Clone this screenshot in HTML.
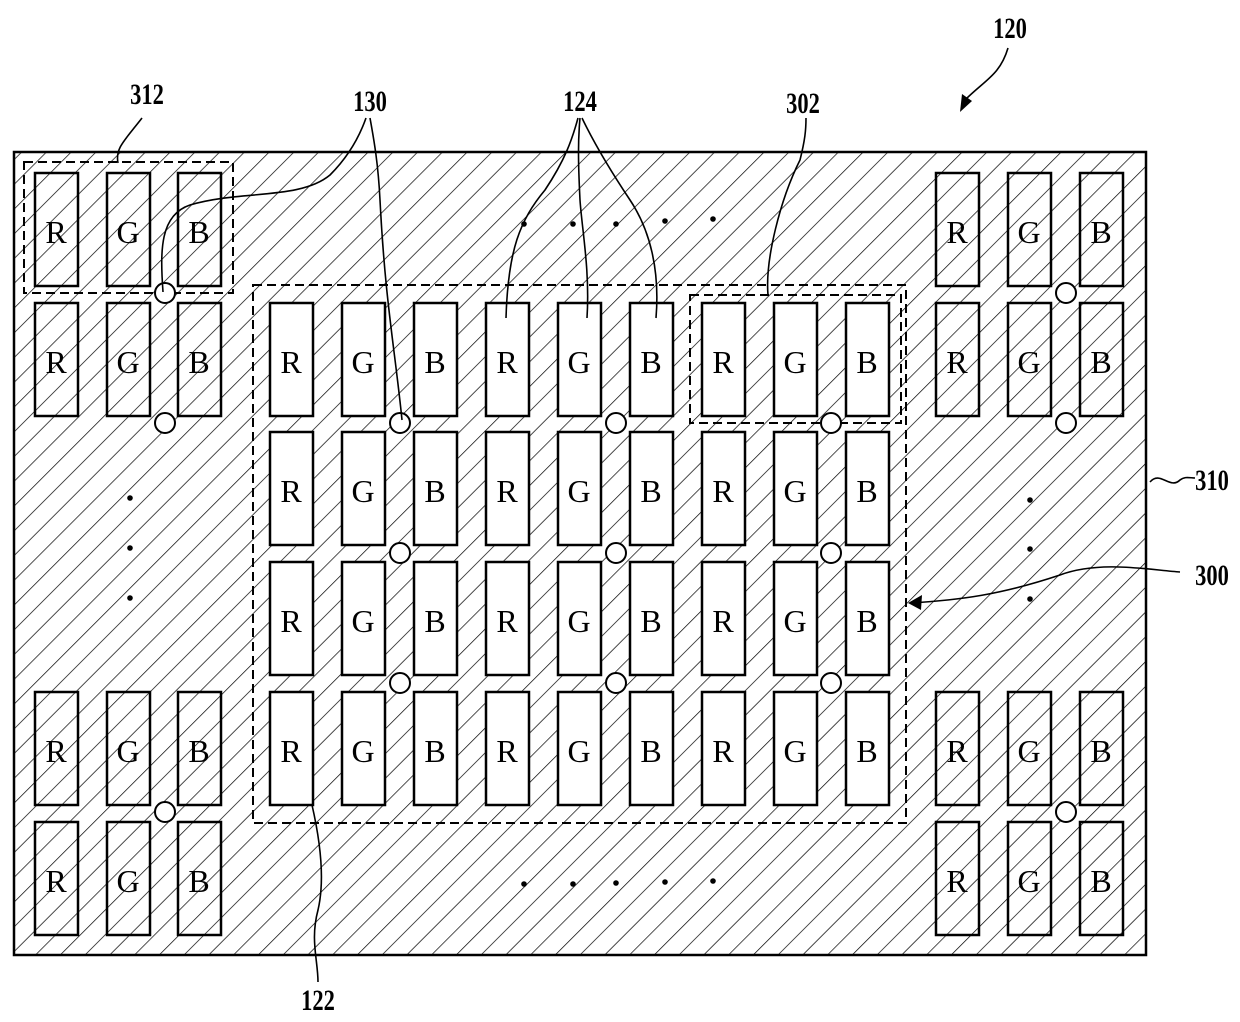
<!DOCTYPE html>
<html><head><meta charset="utf-8"><style>
html,body{margin:0;padding:0;background:#fff}
svg{display:block}
.c rect{stroke:#000;stroke-width:2.5}
.w rect{fill:#fff}
.n rect{fill:none}
text.l{font-family:"Liberation Serif",serif;font-size:32px;text-anchor:middle}
text.lb{font-family:"Liberation Serif",serif;font-size:30px;text-anchor:middle;font-weight:bold}
</style></head><body>
<svg width="1240" height="1022" viewBox="0 0 1240 1022" xmlns="http://www.w3.org/2000/svg">
<defs>
<pattern id="h" patternUnits="userSpaceOnUse" width="17.5" height="40" patternTransform="rotate(45)">
<line x1="0" y1="0" x2="0" y2="40" stroke="#000" stroke-width="1.4"/>
</pattern>
</defs>
<rect x="14" y="152" width="1132" height="803" fill="#fff"/>
<rect x="14" y="152" width="1132" height="803" fill="url(#h)" stroke="#000" stroke-width="2.5"/>

<g fill="none" stroke="#000" stroke-width="2" stroke-dasharray="9,5">
<rect x="24" y="162" width="209" height="131"/>
<rect x="253" y="285" width="653" height="538"/>
<rect x="690" y="295" width="211" height="128"/>
</g>

<!-- corner cells (hatched) -->
<g class="c n">
<g transform="translate(35,173)"><rect width="43" height="113"/><text class="l" x="21" y="70" transform="scale(1,1)">R</text></g>
<g transform="translate(107,173)"><rect width="43" height="113"/><text class="l" x="21" y="70">G</text></g>
<g transform="translate(178,173)"><rect width="43" height="113"/><text class="l" x="21" y="70">B</text></g>
<g transform="translate(35,303)"><rect width="43" height="113"/><text class="l" x="21" y="70">R</text></g>
<g transform="translate(107,303)"><rect width="43" height="113"/><text class="l" x="21" y="70">G</text></g>
<g transform="translate(178,303)"><rect width="43" height="113"/><text class="l" x="21" y="70">B</text></g>
<g transform="translate(35,692)"><rect width="43" height="113"/><text class="l" x="21" y="70">R</text></g>
<g transform="translate(107,692)"><rect width="43" height="113"/><text class="l" x="21" y="70">G</text></g>
<g transform="translate(178,692)"><rect width="43" height="113"/><text class="l" x="21" y="70">B</text></g>
<g transform="translate(35,822)"><rect width="43" height="113"/><text class="l" x="21" y="70">R</text></g>
<g transform="translate(107,822)"><rect width="43" height="113"/><text class="l" x="21" y="70">G</text></g>
<g transform="translate(178,822)"><rect width="43" height="113"/><text class="l" x="21" y="70">B</text></g>
<g transform="translate(936,173)"><rect width="43" height="113"/><text class="l" x="21" y="70">R</text></g>
<g transform="translate(1008,173)"><rect width="43" height="113"/><text class="l" x="21" y="70">G</text></g>
<g transform="translate(1080,173)"><rect width="43" height="113"/><text class="l" x="21" y="70">B</text></g>
<g transform="translate(936,303)"><rect width="43" height="113"/><text class="l" x="21" y="70">R</text></g>
<g transform="translate(1008,303)"><rect width="43" height="113"/><text class="l" x="21" y="70">G</text></g>
<g transform="translate(1080,303)"><rect width="43" height="113"/><text class="l" x="21" y="70">B</text></g>
<g transform="translate(936,692)"><rect width="43" height="113"/><text class="l" x="21" y="70">R</text></g>
<g transform="translate(1008,692)"><rect width="43" height="113"/><text class="l" x="21" y="70">G</text></g>
<g transform="translate(1080,692)"><rect width="43" height="113"/><text class="l" x="21" y="70">B</text></g>
<g transform="translate(936,822)"><rect width="43" height="113"/><text class="l" x="21" y="70">R</text></g>
<g transform="translate(1008,822)"><rect width="43" height="113"/><text class="l" x="21" y="70">G</text></g>
<g transform="translate(1080,822)"><rect width="43" height="113"/><text class="l" x="21" y="70">B</text></g>
</g>

<!-- inner cells (white) -->
<g class="c w">
<g transform="translate(0,303)">
<g transform="translate(270,0)"><rect width="43" height="113"/><text class="l" x="21" y="70">R</text></g>
<g transform="translate(342,0)"><rect width="43" height="113"/><text class="l" x="21" y="70">G</text></g>
<g transform="translate(414,0)"><rect width="43" height="113"/><text class="l" x="21" y="70">B</text></g>
<g transform="translate(486,0)"><rect width="43" height="113"/><text class="l" x="21" y="70">R</text></g>
<g transform="translate(558,0)"><rect width="43" height="113"/><text class="l" x="21" y="70">G</text></g>
<g transform="translate(630,0)"><rect width="43" height="113"/><text class="l" x="21" y="70">B</text></g>
<g transform="translate(702,0)"><rect width="43" height="113"/><text class="l" x="21" y="70">R</text></g>
<g transform="translate(774,0)"><rect width="43" height="113"/><text class="l" x="21" y="70">G</text></g>
<g transform="translate(846,0)"><rect width="43" height="113"/><text class="l" x="21" y="70">B</text></g>
</g>
<g transform="translate(0,432)">
<g transform="translate(270,0)"><rect width="43" height="113"/><text class="l" x="21" y="70">R</text></g>
<g transform="translate(342,0)"><rect width="43" height="113"/><text class="l" x="21" y="70">G</text></g>
<g transform="translate(414,0)"><rect width="43" height="113"/><text class="l" x="21" y="70">B</text></g>
<g transform="translate(486,0)"><rect width="43" height="113"/><text class="l" x="21" y="70">R</text></g>
<g transform="translate(558,0)"><rect width="43" height="113"/><text class="l" x="21" y="70">G</text></g>
<g transform="translate(630,0)"><rect width="43" height="113"/><text class="l" x="21" y="70">B</text></g>
<g transform="translate(702,0)"><rect width="43" height="113"/><text class="l" x="21" y="70">R</text></g>
<g transform="translate(774,0)"><rect width="43" height="113"/><text class="l" x="21" y="70">G</text></g>
<g transform="translate(846,0)"><rect width="43" height="113"/><text class="l" x="21" y="70">B</text></g>
</g>
<g transform="translate(0,562)">
<g transform="translate(270,0)"><rect width="43" height="113"/><text class="l" x="21" y="70">R</text></g>
<g transform="translate(342,0)"><rect width="43" height="113"/><text class="l" x="21" y="70">G</text></g>
<g transform="translate(414,0)"><rect width="43" height="113"/><text class="l" x="21" y="70">B</text></g>
<g transform="translate(486,0)"><rect width="43" height="113"/><text class="l" x="21" y="70">R</text></g>
<g transform="translate(558,0)"><rect width="43" height="113"/><text class="l" x="21" y="70">G</text></g>
<g transform="translate(630,0)"><rect width="43" height="113"/><text class="l" x="21" y="70">B</text></g>
<g transform="translate(702,0)"><rect width="43" height="113"/><text class="l" x="21" y="70">R</text></g>
<g transform="translate(774,0)"><rect width="43" height="113"/><text class="l" x="21" y="70">G</text></g>
<g transform="translate(846,0)"><rect width="43" height="113"/><text class="l" x="21" y="70">B</text></g>
</g>
<g transform="translate(0,692)">
<g transform="translate(270,0)"><rect width="43" height="113"/><text class="l" x="21" y="70">R</text></g>
<g transform="translate(342,0)"><rect width="43" height="113"/><text class="l" x="21" y="70">G</text></g>
<g transform="translate(414,0)"><rect width="43" height="113"/><text class="l" x="21" y="70">B</text></g>
<g transform="translate(486,0)"><rect width="43" height="113"/><text class="l" x="21" y="70">R</text></g>
<g transform="translate(558,0)"><rect width="43" height="113"/><text class="l" x="21" y="70">G</text></g>
<g transform="translate(630,0)"><rect width="43" height="113"/><text class="l" x="21" y="70">B</text></g>
<g transform="translate(702,0)"><rect width="43" height="113"/><text class="l" x="21" y="70">R</text></g>
<g transform="translate(774,0)"><rect width="43" height="113"/><text class="l" x="21" y="70">G</text></g>
<g transform="translate(846,0)"><rect width="43" height="113"/><text class="l" x="21" y="70">B</text></g>
</g>
</g>

<!-- circles -->
<g fill="#fff" stroke="#000" stroke-width="2">
<circle cx="165" cy="293" r="10"/><circle cx="165" cy="423" r="10"/>
<circle cx="400" cy="423" r="10"/><circle cx="616" cy="423" r="10"/><circle cx="831" cy="423" r="10"/>
<circle cx="400" cy="553" r="10"/><circle cx="616" cy="553" r="10"/><circle cx="831" cy="553" r="10"/>
<circle cx="400" cy="683" r="10"/><circle cx="616" cy="683" r="10"/><circle cx="831" cy="683" r="10"/>
<circle cx="1066" cy="293" r="10"/><circle cx="1066" cy="423" r="10"/>
<circle cx="165" cy="812" r="10"/><circle cx="1066" cy="812" r="10"/>
</g>

<!-- dots -->
<g fill="#000">
<circle cx="524" cy="224" r="2.8"/><circle cx="573" cy="224" r="2.8"/><circle cx="616" cy="224" r="2.8"/><circle cx="665" cy="221" r="2.8"/><circle cx="713" cy="219" r="2.8"/>
<circle cx="524" cy="884" r="2.8"/><circle cx="573" cy="884" r="2.8"/><circle cx="616" cy="883" r="2.8"/><circle cx="665" cy="882" r="2.8"/><circle cx="713" cy="881" r="2.8"/>
<circle cx="130" cy="498" r="2.8"/><circle cx="130" cy="548" r="2.8"/><circle cx="130" cy="598" r="2.8"/>
<circle cx="1030" cy="500" r="2.8"/><circle cx="1030" cy="549" r="2.8"/><circle cx="1030" cy="599" r="2.8"/>
</g>

<!-- leaders -->
<g fill="none" stroke="#000" stroke-width="1.6">
<path d="M118,163 C115,148 125,140 142,118"/>
<path d="M163,292 C160,250 160,215 190,205 C240,190 300,200 330,175 C350,155 360,135 366,118"/>
<path d="M402,420 C395,350 385,300 380,200 C378,160 373,135 370,118"/>
<path d="M506,318 C508,250 520,220 545,190 C565,160 572,140 578,118"/>
<path d="M587,318 C590,270 582,230 580,200 C578,160 578,140 580,118"/>
<path d="M656,318 C660,270 650,230 630,200 C610,170 595,145 582,118"/>
<path d="M768,295 C765,260 780,200 800,160 C805,140 806,130 806,118"/>
<path d="M1150,482 C1160,470 1170,490 1180,480 C1185,476 1190,478 1195,478"/>
<path d="M318,982 C318,960 310,940 318,910 C325,880 320,840 312,805"/>
<path d="M1180,572 C1150,570 1100,560 1060,575 C1000,595 960,600 910,603"/>
<path d="M1008,48 C1000,75 985,80 965,100"/>
</g>
<polygon points="908,603 922,595 921,610" fill="#000"/>
<polygon points="960,112 962,94 972,101" fill="#000"/>

<!-- labels -->
<g>
<text class="lb" x="1010" y="38" transform="translate(1010,0) scale(0.75,1) translate(-1010,0)">120</text>
<text class="lb" x="147" y="104" transform="translate(147,0) scale(0.75,1) translate(-147,0)">312</text>
<text class="lb" x="370" y="111" transform="translate(370,0) scale(0.75,1) translate(-370,0)">130</text>
<text class="lb" x="580" y="111" transform="translate(580,0) scale(0.75,1) translate(-580,0)">124</text>
<text class="lb" x="803" y="113" transform="translate(803,0) scale(0.75,1) translate(-803,0)">302</text>
<text class="lb" x="1212" y="490" transform="translate(1212,0) scale(0.75,1) translate(-1212,0)">310</text>
<text class="lb" x="1212" y="585" transform="translate(1212,0) scale(0.75,1) translate(-1212,0)">300</text>
<text class="lb" x="318" y="1010" transform="translate(318,0) scale(0.75,1) translate(-318,0)">122</text>
</g>
</svg>
</body></html>
